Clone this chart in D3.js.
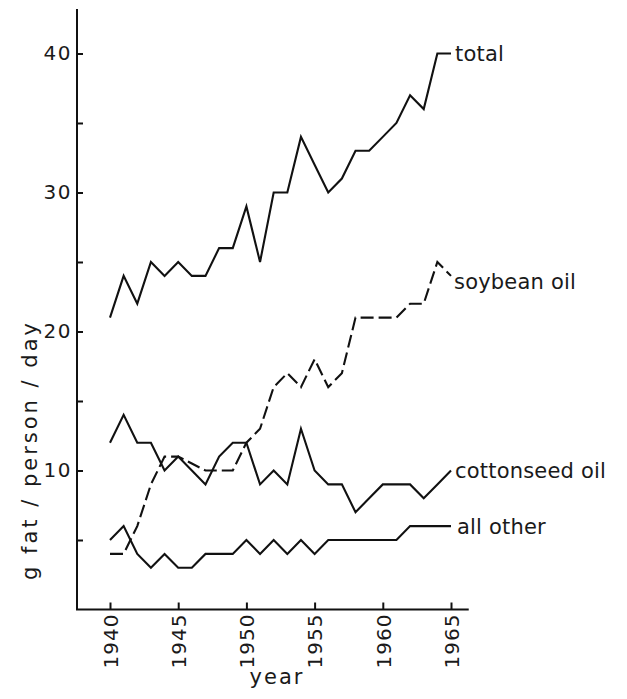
<!DOCTYPE html>
<html>
<head>
<meta charset="utf-8">
<script src="https://cdn.jsdelivr.net/npm/d3@7"></script>
<style>
  html, body { margin: 0; padding: 0; background: #fff; }
  svg text { font-family: "DejaVu Sans", sans-serif; fill: #1a1a1a; }
</style>
</head>
<body>
<svg id="chart" width="627" height="699"></svg>
<script>
// Fat supply per person per day, by source (grams)
const years = d3.range(1940, 1966);
const total      = [21, 24, 22, 25, 24, 25, 24, 24, 26, 26, 29, 25, 30, 30, 34, 32, 30, 31, 33, 33, 34, 35, 37, 36, 40, 40];
const soybeanOil = [4, 4, 6, 9, 11, 11, 10.5, 10, 10, 10, 12, 13, 16, 17, 16, 18, 16, 17, 21, 21, 21, 21, 22, 22, 25, 24];
const cottonOil  = [12, 14, 12, 12, 10, 11, 10, 9, 11, 12, 12, 9, 10, 9, 13, 10, 9, 9, 7, 8, 9, 9, 9, 8, 9, 10];
const allOther   = [5, 6, 4, 3, 4, 3, 3, 4, 4, 4, 5, 4, 5, 4, 5, 4, 5, 5, 5, 5, 5, 5, 6, 6, 6, 6];

const seriesNames = ["total", "soybean oil", "cottonseed oil", "all other"];
const seriesValues = [total, soybeanOil, cottonOil, allOther];
const seriesDashed = [false, true, false, false];

const yTicks = [5, 10, 15, 20, 25, 30, 35, 40];
const yLabelled = [10, 20, 30, 40];
const xTicks = [1940, 1945, 1950, 1955, 1960, 1965];

const svg = d3.select("#chart");

const x = d3.scaleLinear().domain([1940, 1965]).range([110, 451]);
const y = d3.scaleLinear().domain([0, 43.2]).range([609.5, 9]);
const axisX0 = 77;          // where the vertical axis stands
const xAxisEnd = x(1966.3); // right end of the horizontal axis

// vertical axis
const gy = svg.append("g").attr("transform", `translate(${axisX0},0)`);
gy.call(d3.axisLeft(y)
    .tickValues(yTicks)
    .tickSizeInner(-6)
    .tickSizeOuter(0)
    .tickPadding(5)
    .tickFormat(d => yLabelled.includes(d) ? d : ""));
gy.select(".domain").remove();
gy.append("line")
  .attr("x1", 0).attr("x2", 0)
  .attr("y1", y(0)).attr("y2", y.range()[1])
  .attr("stroke", "#111").attr("stroke-width", 2);
gy.selectAll(".tick line").attr("stroke", "#111").attr("stroke-width", 2);
gy.selectAll(".tick text")
  .style("font-size", "20px")
  .attr("letter-spacing", "1.5")
  .attr("fill", "#1a1a1a");

// horizontal axis
const gx = svg.append("g").attr("transform", `translate(0,${y(0)})`);
gx.call(d3.axisBottom(x)
    .tickValues(xTicks)
    .tickSizeInner(-7)
    .tickSizeOuter(0)
    .tickFormat(d3.format("d")));
gx.select(".domain").remove();
gx.append("line")
  .attr("x1", axisX0 - 1).attr("x2", xAxisEnd)
  .attr("y1", 0).attr("y2", 0)
  .attr("stroke", "#111").attr("stroke-width", 2);
gx.selectAll(".tick line").attr("stroke", "#111").attr("stroke-width", 2);
gx.selectAll(".tick text")
  .style("font-size", "20px")
  .attr("letter-spacing", "1")
  .attr("text-anchor", "end")
  .attr("transform", "rotate(-90)")
  .attr("x", -4)
  .attr("y", 0)
  .attr("dy", "0.36em")
  .attr("fill", "#1a1a1a");

// axis titles
svg.append("text")
  .attr("x", 277).attr("y", 684)
  .attr("text-anchor", "middle")
  .style("font-size", "21px")
  .attr("letter-spacing", "2")
  .text("year");

svg.append("text")
  .attr("transform", "translate(37,450) rotate(-90)")
  .attr("text-anchor", "middle")
  .style("font-size", "21px")
  .attr("letter-spacing", "3")
  .text("g fat / person / day");

// series lines
const line = d3.line()
  .x((d, i) => x(years[i]))
  .y(d => y(d));

seriesValues.forEach((vals, k) => {
  svg.append("path")
    .datum(vals)
    .attr("d", line)
    .attr("fill", "none")
    .attr("stroke", "#111")
    .attr("stroke-width", 2.1)
    .attr("stroke-linejoin", "miter")
    .attr("stroke-dasharray", seriesDashed[k] ? "13,5" : null);
});

// series labels at the right end of each line
const labelDy = [8, 13, 8, 8];
const labelDx = [4, 3, 4, 6];
seriesValues.forEach((vals, k) => {
  svg.append("text")
    .attr("x", x(1965) + labelDx[k])
    .attr("y", y(vals[vals.length - 1]) + labelDy[k])
    .style("font-size", "21px")
    .attr("letter-spacing", "0.2")
    .text(seriesNames[k]);
});
</script>
</body>
</html>
